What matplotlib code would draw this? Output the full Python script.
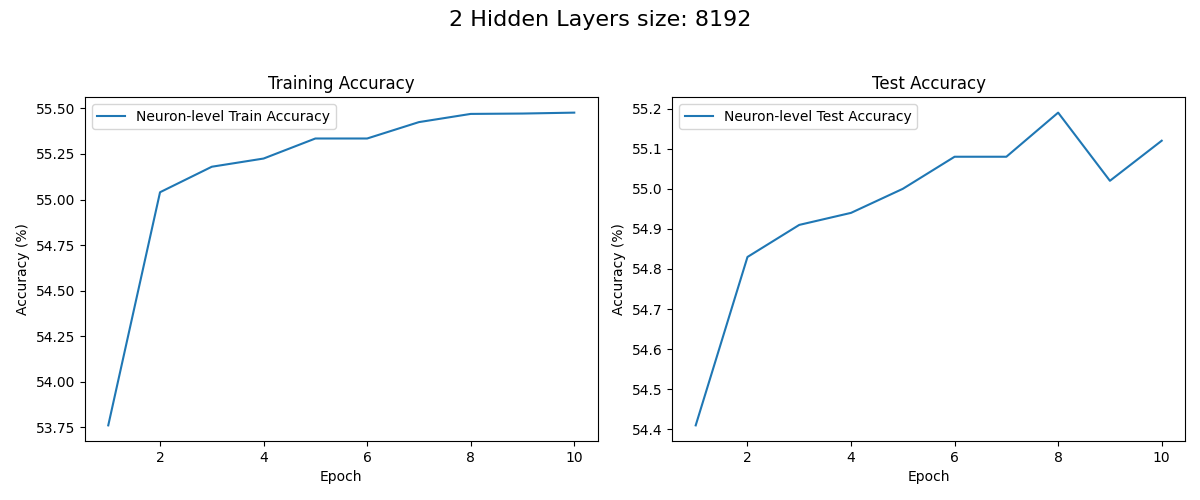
import matplotlib
matplotlib.use("Agg")
import matplotlib.pyplot as plt

epochs = list(range(1, 11))
train_acc = [53.76, 55.04, 55.18, 55.225, 55.335, 55.335, 55.425, 55.47, 55.472, 55.477]
test_acc = [54.41, 54.83, 54.91, 54.94, 55.00, 55.08, 55.08, 55.19, 55.02, 55.12]

fig, axes = plt.subplots(1, 2, figsize=(12, 5), dpi=100)
fig.suptitle("2 Hidden Layers size: 8192", fontsize=16)

axes[0].plot(epochs, train_acc, label="Neuron-level Train Accuracy")
axes[0].set_title("Training Accuracy")
axes[0].set_xlabel("Epoch")
axes[0].set_ylabel("Accuracy (%)")
axes[0].legend(loc="upper left")

axes[1].plot(epochs, test_acc, label="Neuron-level Test Accuracy")
axes[1].set_title("Test Accuracy")
axes[1].set_xlabel("Epoch")
axes[1].set_ylabel("Accuracy (%)")
axes[1].legend(loc="upper left")

fig.subplots_adjust(left=0.0708, right=0.9875, top=0.806, bottom=0.118, wspace=0.146)
fig.savefig("out.png")
